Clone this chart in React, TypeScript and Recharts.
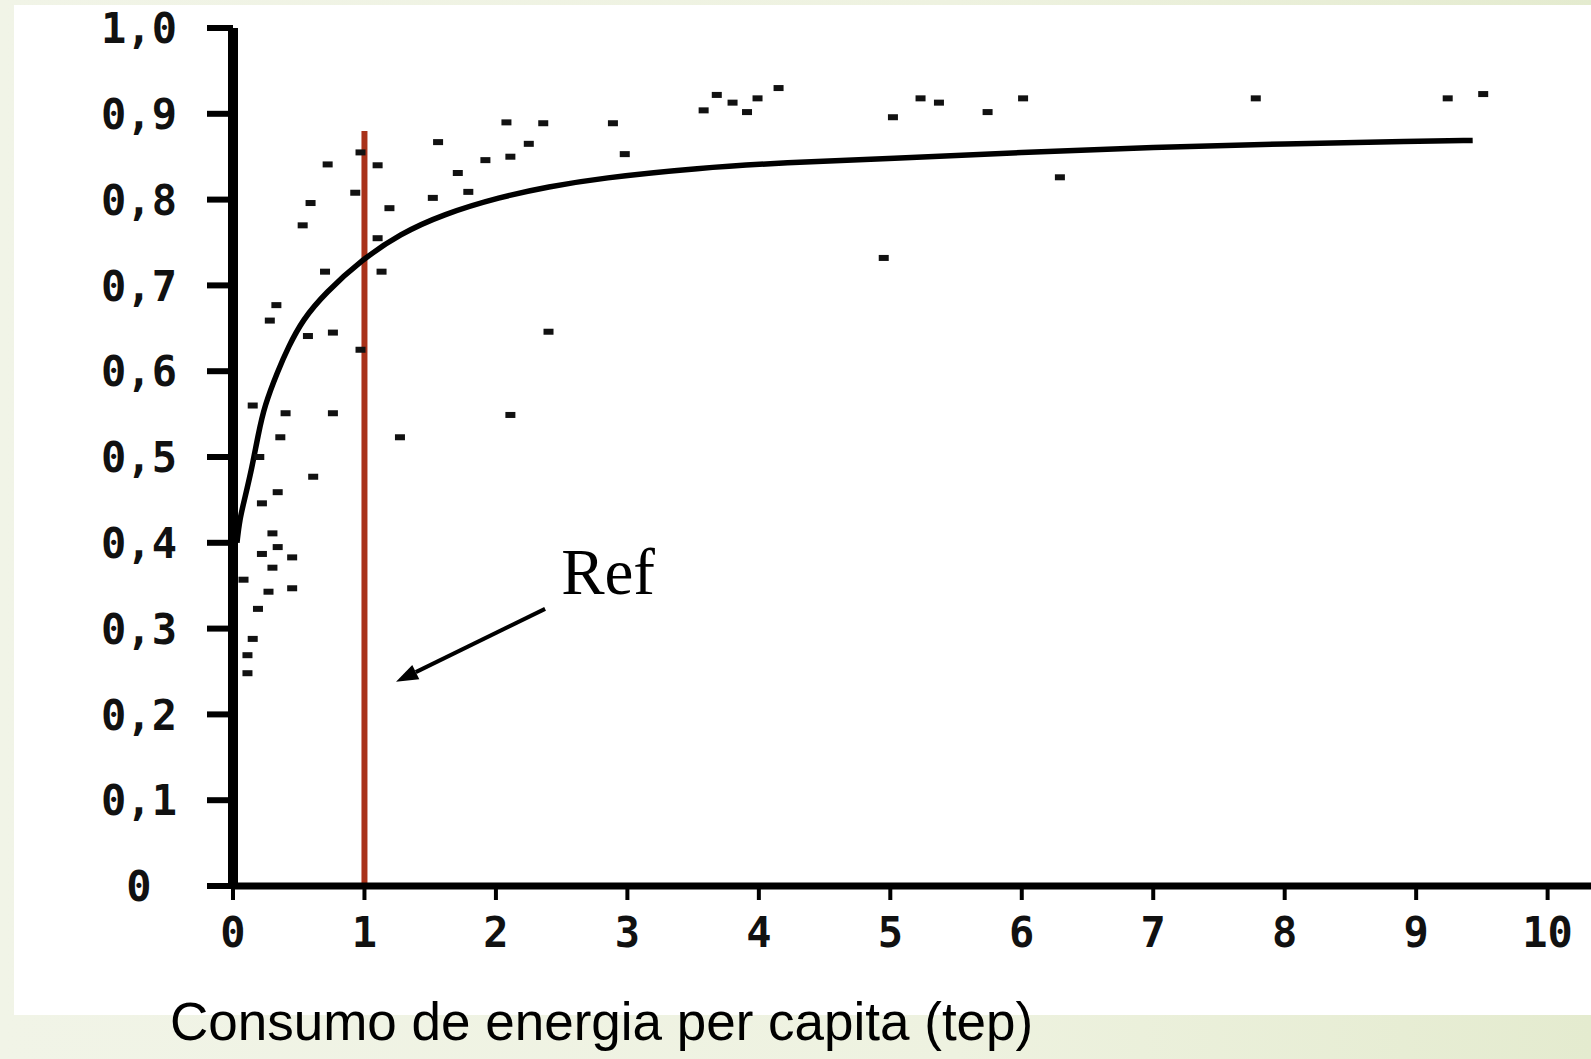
import React from 'react'
import {
  ComposedChart, Line, Scatter, XAxis, YAxis, ReferenceLine, ReferenceDot
} from 'recharts'

// fitted curve (consumo per capita vs. índice)
const curveX = [0.03, 0.05, 0.09, 0.145, 0.19, 0.24, 0.34, 0.42, 0.53, 0.7, 0.98, 1.27, 1.6, 2.03, 2.4, 2.79, 3.55, 4.19, 5.0, 6.0, 7.0, 8.0, 9.0, 9.43]
const curveY = [0.4, 0.427, 0.452, 0.488, 0.525, 0.56, 0.6, 0.628, 0.66, 0.691, 0.73, 0.76, 0.783, 0.803, 0.815, 0.825, 0.837, 0.843, 0.848, 0.855, 0.861, 0.865, 0.868, 0.869]

// country points
const dotX = [
  0.72, 0.97, 1.10, 0.93, 0.59, 0.53, 1.19, 1.52, 1.71, 1.79, 1.56, 1.92, 2.11, 2.25, 2.08, 2.36, 2.89, 2.98,
  1.10, 0.70, 1.13, 0.33, 0.28, 0.57, 0.76, 0.97, 2.40, 0.40, 0.76, 0.36, 1.27, 2.11, 0.61,
  0.34, 0.22, 0.30, 0.34, 0.22, 0.45, 0.30, 0.27, 0.45, 0.19, 0.08, 0.15, 0.11, 0.11, 0.15, 0.20,
  3.68, 3.58, 3.80, 3.99, 3.91, 4.15, 4.95, 5.02, 5.23, 5.37, 5.74, 6.01, 6.29, 7.78, 9.24, 9.51,
]
const dotY = [
  0.841, 0.855, 0.84, 0.808, 0.796, 0.77, 0.79, 0.802, 0.831, 0.809, 0.867, 0.846, 0.85, 0.865, 0.89, 0.889, 0.889, 0.853,
  0.755, 0.716, 0.716, 0.677, 0.659, 0.641, 0.645, 0.625, 0.646, 0.551, 0.551, 0.523, 0.523, 0.549, 0.477,
  0.459, 0.446, 0.411, 0.395, 0.387, 0.383, 0.371, 0.343, 0.347, 0.323, 0.357, 0.288, 0.269, 0.248, 0.56, 0.5,
  0.922, 0.904, 0.913, 0.918, 0.902, 0.93, 0.732, 0.896, 0.918, 0.913, 0.902, 0.918, 0.826, 0.918, 0.918, 0.923,
]

const xTicks = [0, 1, 2, 3, 4, 5, 6, 7, 8, 9, 10]
const yTicks = [0, 0.1, 0.2, 0.3, 0.4, 0.5, 0.6, 0.7, 0.8, 0.9, 1.0]

// reference marker at 1 tep
const refX = 1
const refTop = 0.88
const refLabel = 'Ref'
const refLabelPos = { x: 2.496, y: 0.34 }
const arrowFrom = { x: 2.374, y: 0.323 }
const arrowTo = { x: 1.24, y: 0.238 }

const xTitle = 'Consumo de energia per capita (tep)'

const curve = curveX.map((x, i) => ({ x, y: curveY[i] }))
const dots = dotX.map((x, i) => ({ x, y: dotY[i] }))

const tickFont = { fontFamily: 'DejaVu Sans Mono, monospace', fontWeight: 700, fontSize: 42, fill: '#111' }

const fmtY = (v: number) => (v === 0 ? '0' : v.toFixed(1).replace('.', ','))

// eslint-disable-next-line @typescript-eslint/no-explicit-any
function YTick({ x, y, payload }: any) {
  return (
    <text x={x - 68} y={y} dy="0.36em" textAnchor="middle" {...tickFont}>{fmtY(payload.value)}</text>
  )
}

// eslint-disable-next-line @typescript-eslint/no-explicit-any
function XTick({ x, y, payload }: any) {
  return (
    <text x={x} y={y + 32} dy="0.36em" textAnchor="middle" {...tickFont}>{payload.value}</text>
  )
}

// eslint-disable-next-line @typescript-eslint/no-explicit-any
function Dash({ cx, cy }: any) {
  return <rect x={cx - 5} y={cy - 3} width={10} height={6} fill="#111" />
}

// eslint-disable-next-line @typescript-eslint/no-explicit-any
function Arrow({ x1, y1, x2, y2 }: any) {
  const a = Math.atan2(y2 - y1, x2 - x1)
  const len = 22, half = 8
  const bx = x2 - len * Math.cos(a), by = y2 - len * Math.sin(a)
  const px = -Math.sin(a) * half, py = Math.cos(a) * half
  return (
    <g>
      <line x1={x1} y1={y1} x2={bx} y2={by} stroke="#000" strokeWidth={4} />
      <polygon points={`${x2},${y2} ${bx + px},${by + py} ${bx - px},${by - py}`} fill="#000" />
    </g>
  )
}

// eslint-disable-next-line @typescript-eslint/no-explicit-any
function RefText({ cx, cy }: any) {
  return (
    <text x={cx} y={cy} fontFamily="Liberation Serif, Times New Roman, serif" fontSize={65} fill="#000">{refLabel}</text>
  )
}

export default function App() {
  return (
    <div style={{
      position: 'fixed', left: 0, top: 0, width: 1591, height: 1059,
      background: 'linear-gradient(90deg, #f1f4e7 0%, #eef2e0 60%, #e4ebcf 100%)', overflow: 'hidden',
    }}>
      <div style={{ position: 'absolute', left: 14, top: 5, width: 1577, height: 1010, background: '#fff' }} />
      <div style={{ position: 'absolute', left: 0, top: 0 }}>
        <ComposedChart width={1591} height={1059} margin={{ top: 28, right: 0, bottom: 113, left: 133 }}>
          <XAxis
            type="number" dataKey="x" domain={[0, 10.33]} ticks={xTicks} interval={0}
            axisLine={{ stroke: '#000', strokeWidth: 7 }}
            tickLine={{ stroke: '#000', strokeWidth: 4 }} tickSize={14} tickMargin={0}
            tick={<XTick />} height={60}
          />
          <YAxis
            type="number" dataKey="y" domain={[0, 1]} ticks={yTicks} interval={0}
            axisLine={{ stroke: '#000', strokeWidth: 10 }}
            tickLine={{ stroke: '#000', strokeWidth: 6 }} tickSize={26} tickMargin={0}
            tick={<YTick />} width={100}
          />
          <ReferenceLine segment={[{ x: refX, y: 0 }, { x: refX, y: refTop }]} stroke="#a9321a" strokeWidth={6} />
          <Scatter data={dots} shape={<Dash />} isAnimationActive={false} />
          <Line data={curve} dataKey="y" type="basis" stroke="#000" strokeWidth={5.5} dot={false} isAnimationActive={false} />
          <ReferenceLine segment={[arrowFrom, arrowTo]} shape={<Arrow />} />
          <ReferenceDot x={refLabelPos.x} y={refLabelPos.y} r={0} shape={<RefText />} />
        </ComposedChart>
      </div>
      <div style={{
        position: 'absolute', left: 170, top: 992, fontFamily: 'Liberation Sans, Arial, sans-serif',
        fontSize: 53, lineHeight: '60px', color: '#000', whiteSpace: 'nowrap',
      }}>{xTitle}</div>
    </div>
  )
}
